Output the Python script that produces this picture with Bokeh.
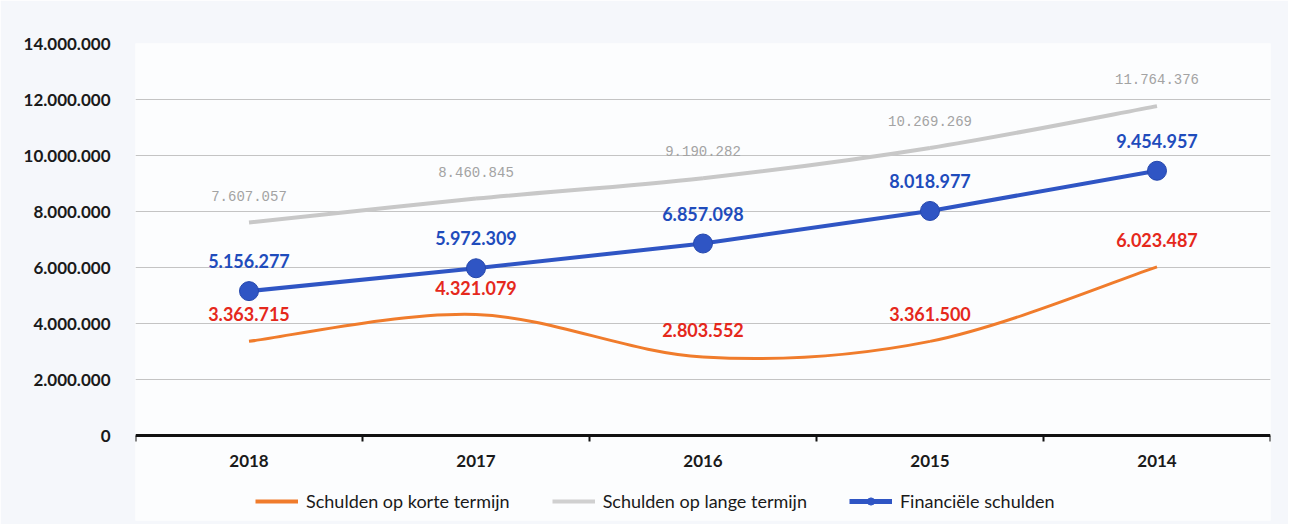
from bokeh.plotting import figure
from bokeh.models import (ColumnDataSource, FixedTicker, Legend, LegendItem,
                          LabelSet, Span, Range1d)
from bokeh.core.properties import value
from bokeh.embed import file_html
from bokeh.resources import INLINE

# ---- data ----
years = ["2018", "2017", "2016", "2015", "2014"]
korte = [3363715, 4321079, 2803552, 3361500, 6023487]
lange = [7607057, 8460845, 9190282, 10269269, 11764376]
financieel = [5156277, 5972309, 6857098, 8018977, 9454957]
y_ticks = [0, 2000000, 4000000, 6000000, 8000000, 10000000, 12000000, 14000000]
y_tick_labels = ["0", "2.000.000", "4.000.000", "6.000.000", "8.000.000",
                 "10.000.000", "12.000.000", "14.000.000"]
series_names = ["Schulden op korte termijn", "Schulden op lange termijn",
                "Financiële schulden"]

FONT = "Lato"
ORANGE = "#f07c2c"
GRAY_LINE = "#c8c8c8"
BLUE = "#2f55c4"
BLUE_TXT = "#1f4cbc"
RED_TXT = "#e5281c"
GRAY_TXT = "#a3a3a3"

# layout (pixels)
FRAME_W = 1135
PLOT_H = 392           # height in px of 0 .. y_max
BELOW_H = 85           # extra frame room below the zero line for labels/legend
Y_MAX = y_ticks[-1]
px = Y_MAX / PLOT_H    # data units per pixel

xs = list(range(len(years)))


def fmt(v):
    return f"{v:,}".replace(",", ".")


def smooth_segments(x, y):
    """Bezier control points (Excel-like smoothed line) derived from the data."""
    n = len(x)
    out = dict(x0=[], y0=[], x1=[], y1=[], cx0=[], cy0=[], cx1=[], cy1=[])
    for i in range(n - 1):
        xp, yp = (x[i - 1], y[i - 1]) if i > 0 else (x[i], y[i])
        xn, yn = (x[i + 2], y[i + 2]) if i + 2 < n else (x[i + 1], y[i + 1])
        out["x0"].append(x[i]); out["y0"].append(y[i])
        out["x1"].append(x[i + 1]); out["y1"].append(y[i + 1])
        out["cx0"].append(x[i] + (x[i + 1] - xp) / 6)
        out["cy0"].append(y[i] + (y[i + 1] - yp) / 6)
        out["cx1"].append(x[i + 1] - (xn - x[i]) / 6)
        out["cy1"].append(y[i + 1] - (yn - y[i]) / 6)
    return out


p = figure(output_backend="svg", toolbar_location=None,
           x_range=Range1d(-0.5, len(years) - 0.5),
           y_range=Range1d(-BELOW_H * px, Y_MAX),
           min_border_left=135, min_border_right=18, min_border_top=43,
           min_border_bottom=4)
p.frame_width = FRAME_W
p.frame_height = PLOT_H + BELOW_H
p.background_fill_color = "#fcfdfe"
p.border_fill_color = "#f5f7fb"
p.outline_line_color = None

# grid
p.xgrid.grid_line_color = None
p.ygrid.grid_line_color = "#c4c4c4"
p.ygrid.grid_line_width = 1
p.ygrid.ticker = FixedTicker(ticks=y_ticks)

# y axis
p.yaxis.ticker = FixedTicker(ticks=y_ticks)
p.yaxis.major_label_overrides = {t: l for t, l in zip(y_ticks, y_tick_labels)}
p.yaxis.axis_line_color = None
p.yaxis.major_tick_line_color = None
p.yaxis.minor_tick_line_color = None
p.yaxis.major_tick_out = 0
p.yaxis.major_tick_in = 0
p.yaxis.major_label_standoff = 25
p.yaxis.major_label_text_font = FONT
p.yaxis.major_label_text_font_size = "17px"
p.yaxis.major_label_text_font_style = "bold"
p.yaxis.major_label_text_color = "#1a1a1a"

# category axis drawn at zero (line, boundary ticks, year labels)
p.xaxis.visible = False
p.add_layout(Span(location=0, dimension="width", line_color="#111111",
                  line_width=3))
bounds = [i - 0.5 for i in range(len(years) + 1)]
p.segment(x0=bounds, y0=[0] * len(bounds), x1=bounds,
          y1=[-6 * px] * len(bounds), line_color="#111111", line_width=2)
year_src = ColumnDataSource(dict(x=xs, y=[0] * len(xs), t=years))
p.add_layout(LabelSet(x="x", y="y", text="t", source=year_src, y_offset=-25,
                      text_align="center", text_baseline="middle",
                      text_color="#1a1a1a", text_font=value(FONT),
                      text_font_size=value("17px"), text_font_style="bold"))

# series lines
gray_src = ColumnDataSource(smooth_segments(xs, lange))
r_gray = p.bezier(x0="x0", y0="y0", x1="x1", y1="y1", cx0="cx0", cy0="cy0",
                  cx1="cx1", cy1="cy1", source=gray_src,
                  line_color=GRAY_LINE, line_width=4)
orange_src = ColumnDataSource(smooth_segments(xs, korte))
r_orange = p.bezier(x0="x0", y0="y0", x1="x1", y1="y1", cx0="cx0", cy0="cy0",
                    cx1="cx1", cy1="cy1", source=orange_src,
                    line_color=ORANGE, line_width=3)
blue_src = ColumnDataSource(dict(x=xs, y=financieel))
r_blue_line = p.line("x", "y", source=blue_src, line_color=BLUE, line_width=4)
r_blue_pts = p.scatter("x", "y", source=blue_src, size=19, fill_color=BLUE,
                       line_color="#2648ad", line_width=1)

# legend sample renderers (for legend glyphs)
leg_orange = p.line(x=[0, 0], y=[0, 0], line_color=ORANGE, line_width=4,
                    visible=False)
leg_gray = p.line(x=[0, 0], y=[0, 0], line_color="#d0d0d0", line_width=4,
                  visible=False)
leg_blue_line = p.line(x=[0, 0], y=[0, 0], line_color=BLUE, line_width=5,
                       visible=False)
leg_blue_pt = p.scatter(x=[0], y=[0], size=11, fill_color=BLUE,
                        line_color=BLUE, visible=False)


# value labels
def add_labels(vals, color, font, size, style, offset):
    src = ColumnDataSource(dict(x=xs, y=vals, t=[fmt(v) for v in vals]))
    ls = LabelSet(x="x", y="y", text="t", source=src, y_offset=offset,
                  text_align="center", text_baseline="middle",
                  text_color=color, text_font=value(font),
                  text_font_size=value(size), text_font_style=style)
    p.add_layout(ls)


add_labels(lange, GRAY_TXT, "Liberation Mono", "14px", "normal", 27)
add_labels(korte, RED_TXT, FONT, "18px", "bold", 27)
add_labels(financieel, BLUE_TXT, FONT, "18px", "bold", 30)

legend = Legend(items=[
    LegendItem(label=series_names[0], renderers=[leg_orange]),
    LegendItem(label=series_names[1], renderers=[leg_gray]),
    LegendItem(label=series_names[2], renderers=[leg_blue_line, leg_blue_pt]),
], orientation="horizontal", location=(120, 8), padding=0, margin=0,
    spacing=42, glyph_width=43, glyph_height=18, label_standoff=8,
    label_text_font=FONT, label_text_font_size="18px",
    label_text_color="#1a1a1a", border_line_color=None,
    background_fill_alpha=0)
p.add_layout(legend, "center")

open("out.html", "w").write(file_html(p, INLINE))
